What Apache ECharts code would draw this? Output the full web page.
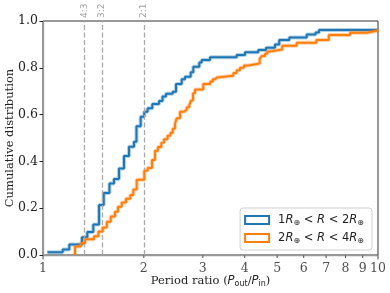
<!DOCTYPE html>
<html>
<head>
<meta charset="utf-8">
<script src="https://cdn.jsdelivr.net/npm/echarts@6/dist/echarts.min.js"></script>
<style>html,body{margin:0;padding:0;background:#fff}#c{width:390px;height:293px}</style>
</head>
<body>
<div id="c"></div>
<script>
// Small R (1-2 Earth radii) CDF steps
const blueX = [1.031, 1.145, 1.198, 1.307, 1.356, 1.413, 1.470, 1.518, 1.579, 1.629, 1.686, 1.745, 1.806, 1.869, 1.901, 1.957, 2.006, 2.053, 2.120, 2.220, 2.274, 2.329, 2.439, 2.495, 2.594, 2.654, 2.760, 2.810, 2.928, 2.977, 3.151, 3.786, 4.009, 4.392, 4.632, 4.925, 5.073, 5.436, 6.128, 6.509, 6.668, 10];
const blueY = [0.012, 0.023, 0.045, 0.076, 0.098, 0.13, 0.214, 0.265, 0.306, 0.325, 0.37, 0.423, 0.463, 0.484, 0.55, 0.591, 0.612, 0.627, 0.645, 0.658, 0.677, 0.689, 0.698, 0.731, 0.751, 0.762, 0.781, 0.805, 0.823, 0.833, 0.845, 0.855, 0.866, 0.876, 0.886, 0.9, 0.919, 0.93, 0.942, 0.951, 0.962, 0.962];
// Larger R (2-4 Earth radii) CDF steps
const orangeX = [1.246, 1.246, 1.296, 1.335, 1.420, 1.463, 1.507, 1.550, 1.593, 1.640, 1.674, 1.718, 1.769, 1.822, 1.860, 1.904, 2.006, 2.053, 2.115, 2.159, 2.204, 2.255, 2.297, 2.353, 2.402, 2.439, 2.477, 2.506, 2.564, 2.623, 2.685, 2.734, 2.764, 2.804, 2.843, 3.009, 3.158, 3.213, 3.262, 3.314, 3.700, 3.786, 3.873, 3.981, 4.101, 4.435, 4.496, 4.599, 4.673, 4.760, 5.176, 5.719, 6.545, 7.130, 8.250, 9.253, 9.93, 10];
const orangeY = [0, 0.036, 0.05, 0.067, 0.08, 0.1, 0.118, 0.142, 0.164, 0.185, 0.206, 0.224, 0.24, 0.256, 0.28, 0.322, 0.36, 0.372, 0.406, 0.445, 0.462, 0.48, 0.495, 0.51, 0.522, 0.54, 0.56, 0.584, 0.612, 0.62, 0.631, 0.641, 0.66, 0.691, 0.707, 0.731, 0.741, 0.751, 0.759, 0.766, 0.778, 0.789, 0.8, 0.81, 0.818, 0.838, 0.85, 0.86, 0.87, 0.878, 0.894, 0.907, 0.919, 0.94, 0.95, 0.958, 0.965, 0.965];
const seriesNames = ['small', 'large'];
// resonance reference lines
const ratioVals = [4/3, 3/2, 2];
const ratioLabels = ['4:3', '3:2', '2:1'];
// x tick labels (log axis)
const xTickVals = [1, 2, 3, 4, 5, 6, 7, 8, 9, 10];
const xTickLabels = ['1', '2', '3', '4', '5', '6', '7', '8', '9', '10'];
const xMajor = [1, 10];

const BLUE = '#1f77b4', ORANGE = '#ff7f0e';
const SERIF = 'DejaVu Serif';
const SANS = 'DejaVu Sans';

const zip = (a, b) => a.map((v, i) => [v, b[i]]);

const chart = echarts.init(document.getElementById('c'), null, {renderer: 'canvas'});

const legendRich = {
  g: {width: 4},
  t: {fontFamily: SANS, fontSize: 11.5, color: '#222', lineHeight: 14},
  i: {fontFamily: SANS, fontStyle: 'italic', fontSize: 11.5, color: '#222', lineHeight: 14},
  s: {fontFamily: SANS, fontSize: 8, color: '#222', padding: [6, 0, 0, 0], lineHeight: 14}
};
const legendText = {
  small: '{g|}{t|1}{i|R}{s|⊕}{t| < }{i|R}{t| < 2}{i|R}{s|⊕}',
  large: '{g|}{t|2}{i|R}{s|⊕}{t| < }{i|R}{t| < 4}{i|R}{s|⊕}'
};

const option = {
  animation: false,
  backgroundColor: '#fff',
  grid: {left: 43, top: 21, right: 12, bottom: 38, show: true, borderColor: '#333', borderWidth: 1,
    backgroundColor: 'transparent', containLabel: false, outerBoundsMode: 'none'},
  xAxis: {
    type: 'log', logBase: 10, min: 1, max: 10,
    axisLine: {show: true, lineStyle: {color: '#999', width: 1.3}},
    axisTick: {show: false}, axisLabel: {show: false}, splitLine: {show: false}, minorTick: {show: false},
    name: '{t|Period ratio (}{i|P}{s|out}{t|/}{i|P}{s|in}{t|)}',
    nameLocation: 'middle', nameGap: 20, nameMoveOverlap: false,
    nameTextStyle: {
      rich: {
        t: {fontFamily: SERIF, fontSize: 11.5, color: '#222'},
        i: {fontFamily: SANS, fontStyle: 'italic', fontSize: 11.5, color: '#222'},
        s: {fontFamily: SANS, fontSize: 8, color: '#222', padding: [5, 0, 0, 0]}
      }
    }
  },
  yAxis: {
    type: 'value', min: 0, max: 1, interval: 0.2,
    axisLine: {show: true, lineStyle: {color: '#999', width: 1.3}},
    axisTick: {show: true, length: 3.5, lineStyle: {color: '#222', width: 1}},
    axisLabel: {fontFamily: SERIF, fontSize: 12.5, color: '#222', margin: 5, formatter: v => v.toFixed(1)},
    splitLine: {show: false},
    name: 'Cumulative distribution', nameLocation: 'middle', nameGap: 27, nameMoveOverlap: false,
    nameTextStyle: {fontFamily: SERIF, fontSize: 11.5, color: '#222'}
  },
  legend: {
    orient: 'vertical', right: 18, bottom: 43,
    data: [
      {name: 'small', itemStyle: {color: '#fff', borderColor: BLUE, borderWidth: 2}},
      {name: 'large', itemStyle: {color: '#fff', borderColor: ORANGE, borderWidth: 2}}
    ],
    icon: 'rect', itemWidth: 24, itemHeight: 8, itemGap: 4,
    padding: [5, 8, 5, 4],
    backgroundColor: '#fff', borderColor: '#d0d0d0', borderWidth: 1, borderRadius: 3,
    formatter: n => legendText[n],
    textStyle: {rich: legendRich},
    selectedMode: false
  },
  series: [
    {
      type: 'line', name: 'refs', data: [], silent: true,
      markLine: {
        silent: true, symbol: 'none', label: {show: false},
        lineStyle: {color: '#aaaaaa', width: 1.3, type: [5, 2.5]},
        data: ratioVals.map(v => ({xAxis: v}))
      }
    },
    {
      type: 'scatter', name: 'refLabels', silent: true, symbolSize: 0, clip: false,
      data: ratioVals.map((v, i) => ({value: [v, 1], label: {formatter: ratioLabels[i]}})),
      label: {show: true, position: 'top', distance: 3, rotate: 90, align: 'left', verticalAlign: 'middle',
        fontFamily: SANS, fontSize: 9, color: '#888'}
    },
    {
      type: 'line', name: 'smallHalo', step: 'end', showSymbol: false, silent: true,
      data: zip(blueX, blueY), lineStyle: {color: BLUE, width: 4, opacity: 0.35}, z: 2
    },
    {
      type: 'line', name: 'small', step: 'end', showSymbol: false,
      data: zip(blueX, blueY), itemStyle: {color: BLUE}, lineStyle: {color: BLUE, width: 2}, z: 3
    },
    {
      type: 'line', name: 'largeHalo', step: 'end', showSymbol: false, silent: true,
      data: zip(orangeX, orangeY), lineStyle: {color: ORANGE, width: 4, opacity: 0.35}, z: 4
    },
    {
      type: 'line', name: 'large', step: 'end', showSymbol: false,
      data: zip(orangeX, orangeY), itemStyle: {color: ORANGE}, lineStyle: {color: ORANGE, width: 2}, z: 5
    },
    {
      type: 'scatter', name: 'xticks', silent: true, clip: false,
      data: xTickVals.map((v, i) => {
        const major = xMajor.indexOf(v) >= 0;
        const len = major ? 4 : 2.5;
        return {
          value: [v, 0],
          symbolSize: [1, len], symbolOffset: [0, len / 2 + 0.5],
          label: {formatter: xTickLabels[i], distance: major ? 3 : 4.5}
        };
      }),
      symbol: 'rect', itemStyle: {color: '#222'},
      label: {show: true, position: 'bottom', fontFamily: SERIF, fontSize: 12.5, color: '#222'},
      z: 6
    }
  ]
};
chart.setOption(option);
</script>
</body>
</html>
